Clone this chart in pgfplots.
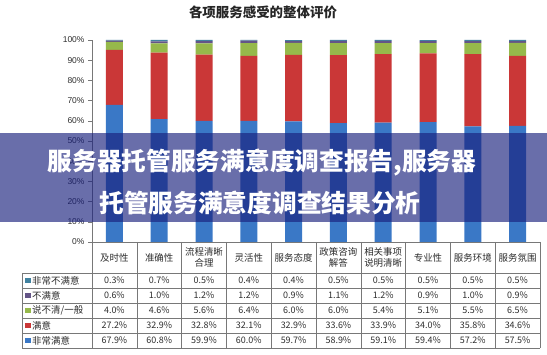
\documentclass[border=0pt]{standalone}
\usepackage{pgfplots}
\pgfplotsset{compat=1.18}
\usepackage{pgfplotstable}
\usepackage{fontspec}
\setmainfont{Liberation Sans}
\newfontfamily\cjk{Noto Sans CJK SC}
\definecolor{cBlue}{RGB}{58,120,198}
\definecolor{cRed}{RGB}{202,55,55}
\definecolor{cGreen}{RGB}{150,185,75}
\definecolor{cPurple}{RGB}{100,85,135}
\definecolor{cTeal}{RGB}{65,130,160}
\definecolor{band}{RGB}{25,32,125}
\definecolor{txt}{RGB}{45,45,45}
\definecolor{grid}{RGB}{120,120,120}
\pgfkeys{/pgf/number format/assume math mode=true}

\pgfplotstableread{
x vs ok unsure dis vdis
0 67.9 27.2 4.0 0.6 0.3
1 60.8 32.9 4.6 1.0 0.7
2 59.9 32.8 5.6 1.2 0.5
3 60.0 32.1 6.4 1.2 0.4
4 59.7 32.9 6.0 0.9 0.4
5 58.9 33.6 6.0 1.1 0.5
6 59.1 33.9 5.4 1.2 0.5
7 59.4 34.0 5.1 0.9 0.5
8 57.2 35.8 5.5 1.0 0.5
9 57.5 34.6 6.5 0.9 0.5
}\data

\begin{document}
\begin{tikzpicture}
\path[use as bounding box] (0bp,0bp) rectangle (547bp,355bp);
\begin{axis}[
  scale only axis, width=448bp, height=202bp,
  at={(92bp,113bp)}, anchor=south west,
  xmin=-0.5, xmax=9.5, ymin=0, ymax=100,
  axis y line=left, axis x line=bottom,
  axis line style={-, draw=grid},
  xtick=\empty,
  ytick={0,10,...,100},
  yticklabel={\pgfmathprintnumber{\tick}\%},
  tick align=outside, major tick length=4bp,
  tick style={draw=grid},
  y tick label style={font=\fontsize{8.5}{9}\selectfont, text=txt},
  ybar stacked, bar width=17bp,
  clip=false,
]
\addplot[fill=cBlue, draw=none] table[x=x,y=vs]{\data};
\addplot[fill=cRed, draw=none] table[x=x,y=ok]{\data};
\addplot[fill=cGreen, draw=none] table[x=x,y=unsure]{\data};
\addplot[fill=cPurple, draw=none] table[x=x,y=dis]{\data};
\addplot[fill=cTeal, draw=none] table[x=x,y=vdis]{\data};
\end{axis}
\begin{scope}[x=1bp,y=1bp]
% title
\node[font=\cjk\bfseries\fontsize{13.5}{15}\selectfont, text=black!85] at (263,343) {各项服务感受的整体评价};

% table lines
\foreach \i in {0,...,10} {
  \draw[grid, line width=0.6bp] ({92+44.8*\i},113) -- ({92+44.8*\i},7);
}
\draw[grid, line width=0.6bp] (22,82) -- (22,7);
\foreach \yy in {82,67,52,37,22,7} {
  \draw[grid, line width=0.6bp] (22,\yy) -- (540,\yy);
}

% headers
\foreach \h [count=\k from 0] in {及时性,准确性,{流程清晰\\合理},灵活性,服务态度,{政策咨询\\解答},{相关事项\\说明清晰},专业性,服务环境,服务氛围} {
  \node[font=\cjk\fontsize{9.5}{10.5}\selectfont, text=txt, align=center, inner sep=0pt] at ({92+44.8*(\k+0.5)},97.5) {\h};
}

% legend column
\foreach \lab/\col [count=\k from 0] in {非常不满意/cTeal,不满意/cPurple,{说不清/一般}/cGreen,满意/cRed,非常满意/cBlue} {
  \fill[\col] (25,{74.5-15*\k-2.8}) rectangle (30.6,{74.5-15*\k+2.8});
  \node[font=\cjk\fontsize{9.5}{10.5}\selectfont, text=txt, anchor=west, inner sep=0pt] at (32,{74.5-15*\k}) {\lab};
}

% values
\foreach \col [count=\k from 0] in {vdis,dis,unsure,ok,vs} {
  \foreach \r in {0,...,9} {
    \pgfplotstablegetelem{\r}{\col}\of\data
    \node[font=\cjk\fontsize{9}{10}\selectfont, text=txt, inner sep=0pt] at ({92+44.8*(\r+0.5)},{74.5-15*\k}) {\pgfmathprintnumber[fixed,fixed zerofill,precision=1]{\pgfplotsretval}\%};
  }
}

% overlay band
\fill[band, opacity=0.65] (0,133) rectangle (547,222);
\node[font=\cjk\bfseries\fontsize{24.8}{26}\selectfont, text=white, inner sep=0pt] at (262,192) {服务器托管服务满意度调查报告,服务器};
\node[font=\cjk\bfseries\fontsize{24.8}{26}\selectfont, text=white, inner sep=0pt] at (260,152) {托管服务满意度调查结果分析};
\end{scope}
\end{tikzpicture}
\end{document}
